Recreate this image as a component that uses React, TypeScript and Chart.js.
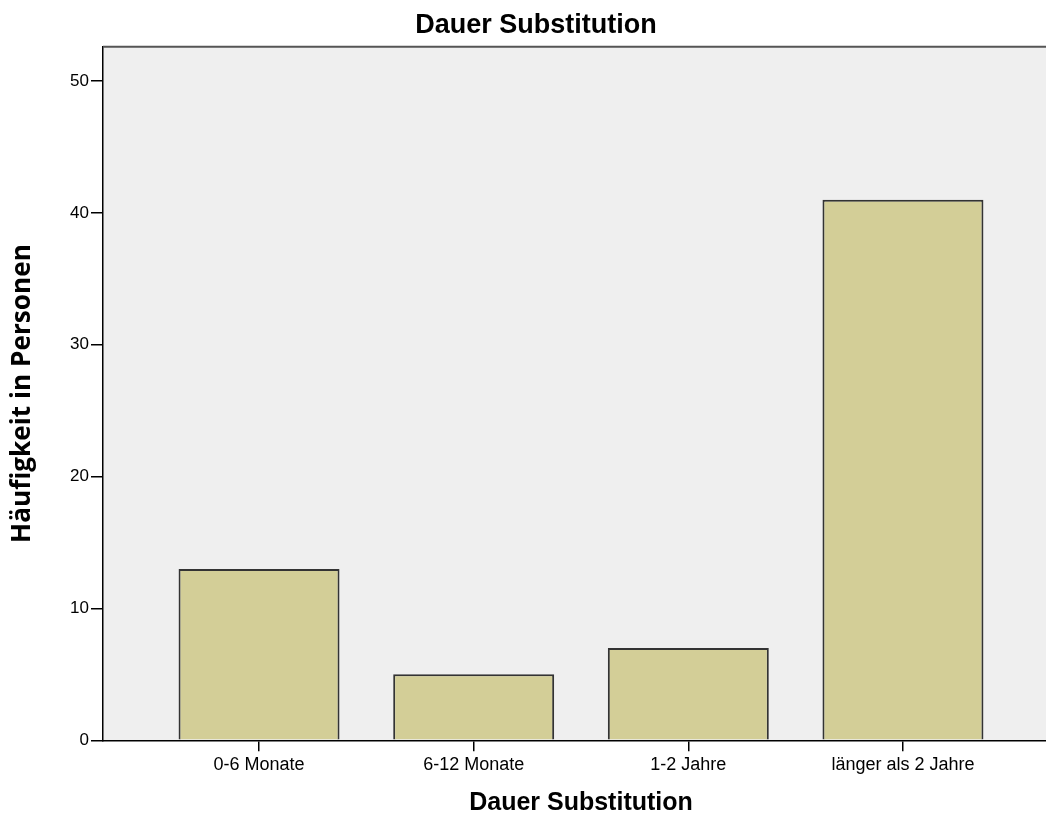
import React, { useEffect, useRef } from "react";
import { Chart, registerables } from "chart.js";

Chart.register(...registerables);

const CATEGORIES = ["0-6 Monate", "6-12 Monate", "1-2 Jahre", "länger als 2 Jahre"];
const VALUES = [13, 5, 7, 41];
const Y_TICKS = [0, 10, 20, 30, 40, 50];
const TITLE = "Dauer Substitution";
const X_TITLE = "Dauer Substitution";
const Y_TITLE = "Häufigkeit in Personen";

const plotBg = {
  id: "plotBg",
  beforeDraw(chart: any) {
    const { ctx, chartArea } = chart;
    ctx.save();
    ctx.fillStyle = "#efefef";
    ctx.fillRect(chartArea.left, chartArea.top, chartArea.right - chartArea.left, chartArea.bottom - chartArea.top);
    ctx.restore();
  },
  afterDraw(chart: any) {
    const { ctx, chartArea } = chart;
    ctx.save();
    ctx.strokeStyle = "#555555";
    ctx.lineWidth = 2;
    ctx.beginPath();
    ctx.moveTo(chartArea.left, chartArea.top);
    ctx.lineTo(chartArea.right, chartArea.top);
    ctx.lineTo(chartArea.right, chartArea.bottom);
    ctx.stroke();
    ctx.restore();
  },
};

export default function App() {
  const ref = useRef<HTMLCanvasElement>(null);
  useEffect(() => {
    if (!ref.current) return;
    Chart.defaults.font.family = "'Liberation Sans', Arial, sans-serif";
    Chart.defaults.color = "#000";
    const chart = new Chart(ref.current, {
      type: "bar",
      data: {
        datasets: [
          {
            data: VALUES.map((v, i) => ({ x: i, y: v })),
            backgroundColor: "#d3ce97",
            borderColor: "#333333",
            borderWidth: 2,
            barPercentage: 0.75,
            categoryPercentage: 1,
          },
        ],
      },
      options: {
        animation: false,
        responsive: false,
        devicePixelRatio: 1,
        layout: { padding: { left: 13, right: 0, top: 0, bottom: 0 } },
        plugins: {
          legend: { display: false },
          tooltip: { enabled: false },
          title: {
            display: true,
            text: TITLE,
            color: "#000",
            font: { size: 27, weight: "bold", lineHeight: 1.2 },
            padding: { top: 9, bottom: 5.3 },
          },
        },
        scales: {
          x: {
            type: "linear",
            offset: false,
            min: -0.727,
            max: 3.727,
            afterBuildTicks: (scale: any) => {
              scale.ticks = CATEGORIES.map((_, i) => ({ value: i }));
            },
            afterFit: (scale: any) => {
              scale.height = 73.7;
            },
            ticks: {
              autoSkip: false,
              maxRotation: 0,
              padding: 3,
              color: "#000",
              font: { size: 18 },
              callback: (v: any) => CATEGORIES[Number(v)] ?? "",
            },
            grid: { offset: false, drawOnChartArea: false, drawTicks: true, tickLength: 11, color: "#000", lineWidth: 1.5 },
            border: { display: true, color: "#000", width: 1.5 },
            title: {
              display: true,
              text: X_TITLE,
              color: "#000",
              font: { size: 25, weight: "bold", lineHeight: 0.88 },
              padding: 0,
            },
          },
          y: {
            min: 0,
            max: 52.6,
            afterBuildTicks: (scale: any) => {
              scale.ticks = Y_TICKS.map((v) => ({ value: v }));
            },
            afterFit: (scale: any) => {
              scale.width = 90;
            },
            ticks: {
              padding: 2,
              color: "#000",
              font: { size: 17 },
              includeBounds: false,
            },
            grid: { drawOnChartArea: false, drawTicks: true, tickLength: 12, color: "#000", lineWidth: 1.5 },
            border: { display: true, color: "#000", width: 1.5 },
            title: {
              display: true,
              text: Y_TITLE,
              color: "#000",
              font: { family: "'Open Sans', sans-serif", size: 26.2, weight: "bold", lineHeight: 0.76 },
              padding: 0,
            },
          },
        },
      },
      plugins: [plotBg],
    } as any);
    return () => chart.destroy();
  }, []);

  return (
    <div style={{ position: "fixed", left: 0, top: 0, width: 1046, height: 814, overflow: "hidden", background: "#fff" }}>
      <canvas ref={ref} width={1059} height={814} style={{ display: "block" }} />
    </div>
  );
}
